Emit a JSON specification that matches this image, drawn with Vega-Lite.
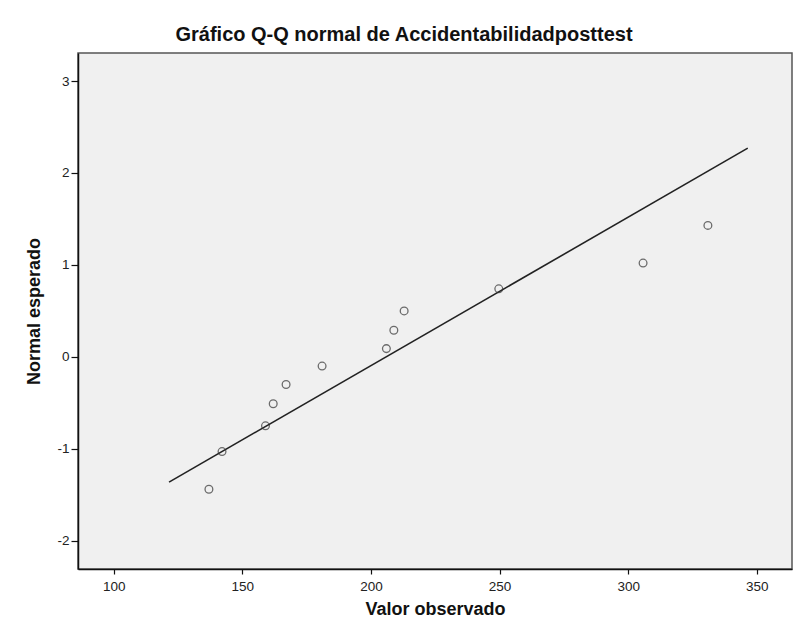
{
  "$schema": "https://vega.github.io/schema/vega-lite/v6.json",
  "width": 714,
  "height": 516,
  "autosize": {"type": "none"},
  "padding": {"left": 78, "top": 53, "right": 10, "bottom": 73},
  "background": "white",
  "title": {
    "text": "Gráfico Q-Q normal de Accidentabilidadposttest",
    "font": "Liberation Sans",
    "fontSize": 20,
    "fontWeight": "bold",
    "color": "#111111",
    "anchor": "middle",
    "dx": -31,
    "offset": 8
  },
  "config": {
    "view": {"fill": "#f0f0f0", "stroke": "#555555", "strokeWidth": 1.5},
    "axis": {
      "grid": false,
      "labelFont": "Liberation Sans",
      "labelFontSize": 13.5,
      "labelColor": "#222222",
      "titleFont": "Liberation Sans",
      "titleFontSize": 18,
      "titleFontWeight": "bold",
      "titleColor": "#111111",
      "domainColor": "#111111",
      "domainWidth": 1.5,
      "tickColor": "#111111",
      "tickWidth": 1.2
    }
  },
  "datasets": {
    "puntos": [
      {"observado": 137.0, "esperado": -1.44},
      {"observado": 142.1, "esperado": -1.03},
      {"observado": 159.0, "esperado": -0.75},
      {"observado": 162.0, "esperado": -0.51},
      {"observado": 167.0, "esperado": -0.30},
      {"observado": 181.0, "esperado": -0.10},
      {"observado": 206.0, "esperado": 0.09},
      {"observado": 208.9, "esperado": 0.29},
      {"observado": 212.9, "esperado": 0.50},
      {"observado": 249.7, "esperado": 0.74},
      {"observado": 305.8, "esperado": 1.02},
      {"observado": 331.0, "esperado": 1.43}
    ],
    "recta": [
      {"observado": 121.5, "esperado": -1.362},
      {"observado": 346.5, "esperado": 2.270}
    ]
  },
  "layer": [
    {
      "data": {"name": "recta"},
      "mark": {"type": "line", "color": "#222222", "strokeWidth": 1.6, "clip": true},
      "encoding": {
        "x": {
          "field": "observado",
          "type": "quantitative",
          "scale": {"domain": [86.1, 363.7], "nice": false, "zero": false},
          "axis": {
            "title": "Valor observado",
            "values": [100, 150, 200, 250, 300, 350],
            "labelExpr": "'' + datum.value",
            "tickSize": 5,
            "labelPadding": 5,
            "titlePadding": 8
          }
        },
        "y": {
          "field": "esperado",
          "type": "quantitative",
          "scale": {"domain": [-2.307, 3.305], "nice": false, "zero": false},
          "axis": {
            "title": "Normal esperado",
            "values": [-2, -1, 0, 1, 2, 3],
            "labelExpr": "'' + datum.value",
            "tickSize": 7,
            "labelPadding": 2,
            "titlePadding": 13
          }
        }
      }
    },
    {
      "data": {"name": "puntos"},
      "mark": {"type": "point", "shape": "circle", "filled": false, "color": "#333333", "size": 60, "strokeWidth": 1.3},
      "encoding": {
        "x": {"field": "observado", "type": "quantitative"},
        "y": {"field": "esperado", "type": "quantitative"}
      }
    }
  ]
}
